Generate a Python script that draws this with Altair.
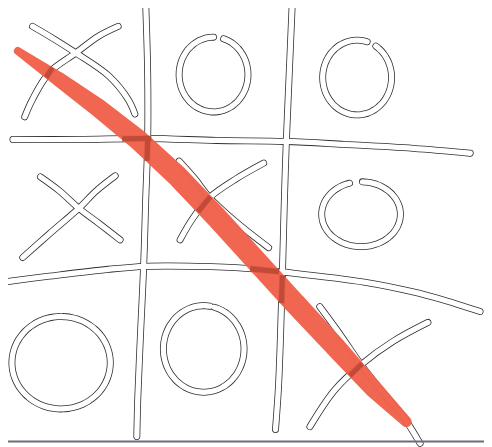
import altair as alt
import numpy as np
import pandas as pd

# ---- hand-drawn grid strokes (image pixel coordinates, y downwards) ----
V1 = [(148, 0), (150, 70), (150, 140), (148, 200), (146, 265), (143, 330), (140, 400), (139, 440)]
V2 = [(297, 0), (294, 70), (291, 140), (289, 200), (287, 275), (285, 340), (283, 390), (280, 433)]
H1 = [(13, 138), (80, 138), (150, 137), (220, 139), (290, 140), (350, 143), (420, 147), (478, 152)]
H2 = [(3, 283), (50, 277), (110, 270), (148, 267), (200, 267), (250, 269), (290, 273),
      (370, 283), (420, 293), (450, 301), (488, 313)]

# ---- crosses ----
X1A = [(33, 23), (55, 36), (77, 50), (110, 73), (130, 97), (137, 112)]
X1B = [(120, 23), (100, 33), (77, 50), (50, 70), (33, 97), (25, 115)]
X2A = [(41, 176), (60, 190), (80, 208), (100, 223), (122, 240)]
X2B = [(117, 175), (98, 190), (80, 208), (50, 234), (23, 258)]
X3A = [(182, 160), (198, 178), (213, 197), (240, 222), (273, 248)]
X3B = [(268, 162), (240, 178), (213, 197), (196, 218), (183, 240)]
X4A = [(325, 308), (347, 338), (367, 367), (393, 400), (410, 420), (427, 447)]
X4B = [(435, 324), (400, 343), (367, 367), (340, 393), (315, 430)]

# ---- noughts: centre x, centre y, radius x, radius y, start angle, end angle (deg) ----
O_CX = [217, 363, 367, 62, 207]
O_CY = [72, 75, 214, 365, 351]
O_RX = [35, 35, 40, 50, 41]
O_RY = [38, 38, 33, 47, 44]
O_START = [-73, -57, -88, -90, -75]
O_END = [270, 287, 253, 272, 279]

# ---- red winning stroke ----
RED_X = [18, 60, 100, 140, 180, 220, 260, 300, 340, 380, 413]
RED_Y = [48, 77, 106, 138, 175, 217, 261, 305, 348, 392, 425]
RED_W = [8, 15, 19, 21, 22, 22, 22, 22, 21, 18, 11]

# bottom border line of the picture
BORDER_Y = [445]

# ---------------------------------------------------------------
strokes = {"v1": V1, "v2": V2, "h1": H1, "h2": H2,
           "x1a": X1A, "x1b": X1B, "x2a": X2A, "x2b": X2B,
           "x3a": X3A, "x3b": X3B, "x4a": X4A, "x4b": X4B}
rows = []
for sid, pts in strokes.items():
    for i, (x, y) in enumerate(pts):
        rows.append({"id": sid, "seq": i, "x": x, "y": y})
for k in range(len(O_CX)):
    angs = np.deg2rad(np.linspace(O_START[k], O_END[k], 60))
    for i, a in enumerate(angs):
        rows.append({"id": f"o{k}", "seq": i,
                     "x": O_CX[k] + O_RX[k] * np.cos(a),
                     "y": O_CY[k] + O_RY[k] * np.sin(a)})
sk = pd.DataFrame(rows)

red = pd.DataFrame({"seq": range(len(RED_X)), "x": RED_X, "y": RED_Y, "w": RED_W})

# darker patches where the red stroke crosses a sketch stroke
patches = []
pid = 0
for sid, g in sk.groupby("id"):
    g = g.sort_values("seq")
    P = g[["x", "y"]].to_numpy(float)
    for i in range(len(P) - 1):
        p1, p2 = P[i], P[i + 1]
        d1 = p2 - p1
        for j in range(len(RED_X) - 1):
            q1 = np.array([RED_X[j], RED_Y[j]], float)
            q2 = np.array([RED_X[j + 1], RED_Y[j + 1]], float)
            d2 = q2 - q1
            den = d1[0] * d2[1] - d1[1] * d2[0]
            if abs(den) < 1e-9:
                continue
            r = q1 - p1
            t = (r[0] * d2[1] - r[1] * d2[0]) / den
            u = (r[0] * d1[1] - r[1] * d1[0]) / den
            if 0 <= t <= 1 and 0 <= u <= 1:
                I = p1 + t * d1
                e = d1 / np.linalg.norm(d1)
                f = d2 / np.linalg.norm(d2)
                s = abs(e[0] * f[1] - e[1] * f[0])
                w = RED_W[j] + (RED_W[j + 1] - RED_W[j]) * u
                half = min(0.45 * w / max(s, 0.2), 30)
                a, b = I - half * e, I + half * e
                patches.append({"id": pid, "seq": 0, "x": a[0], "y": a[1]})
                patches.append({"id": pid, "seq": 1, "x": b[0], "y": b[1]})
                pid += 1
pt = pd.DataFrame(patches)

W, H = 484, 439
xs = alt.Scale(domain=[8, 8 + W], nice=False, zero=False)
ys = alt.Scale(domain=[8, 8 + H], nice=False, zero=False, reverse=True)
X = alt.X("x:Q", scale=xs, axis=None)
Y = alt.Y("y:Q", scale=ys, axis=None)

base = alt.Chart(sk).encode(x=X, y=Y, detail="id:N", order="seq:Q")
outline = base.mark_line(color="#2e2e2e", strokeWidth=7.0, strokeCap="round",
                         strokeJoin="round", interpolate="catmull-rom")
inner = base.mark_line(color="#ffffff", strokeWidth=5.4, strokeCap="round",
                       strokeJoin="round", interpolate="catmull-rom")

redline = alt.Chart(red).mark_trail(color="#f0614a", opacity=0.97).encode(
    x=X, y=Y, order="seq:Q", size=alt.Size("w:Q", scale=None, legend=None))

patch = alt.Chart(pt).mark_line(color="#c24a38", strokeWidth=5.4, strokeCap="butt").encode(
    x=X, y=Y, detail="id:N", order="seq:Q")

border = alt.Chart(pd.DataFrame({"y": BORDER_Y})).mark_rule(
    color="#6f6b7a", strokeWidth=2).encode(y=Y, x=alt.value(0), x2=alt.value(W))

chart = alt.layer(outline, inner, redline, patch, border).properties(
    width=W, height=H, padding=0,
    autosize=alt.AutoSizeParams(type="none"),
    background="white",
).configure_view(stroke=None)

chart.save("out.html", embed_options={"renderer": "svg", "actions": False})
